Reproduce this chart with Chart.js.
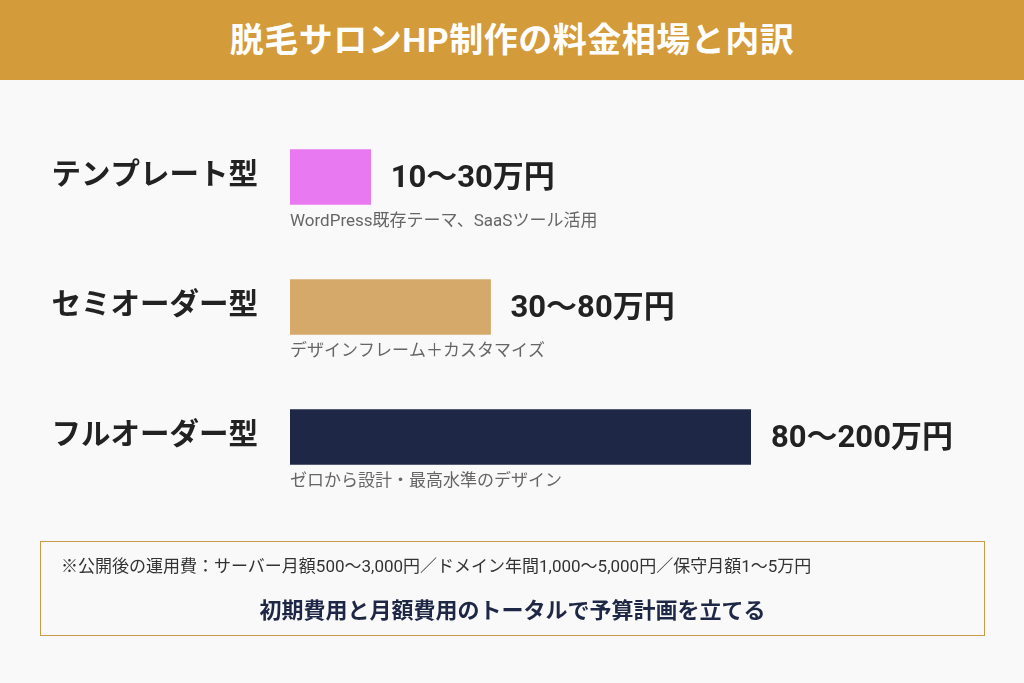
<!DOCTYPE html>
<html><head><meta charset="utf-8">
<script src="https://cdn.jsdelivr.net/npm/chart.js@4"></script>
<style>
body{margin:0;width:1024px;height:683px;background:#f9f9f9;font-family:Roboto,"Noto Sans CJK JP",sans-serif;position:relative;overflow:hidden}
#head{position:absolute;left:0;top:0;width:1024px;height:80px;background:#d49b3a;color:#fff;font-weight:bold;font-size:34px;text-align:center;line-height:80px;letter-spacing:0.5px}
#c{position:absolute;left:0;top:0}
#box{position:absolute;left:40px;top:541px;width:945px;height:95px;border:1.5px solid #c99a45;box-sizing:border-box}
#n1{position:absolute;left:20px;top:10px;font-size:17px;color:#333;white-space:nowrap}
#n2{position:absolute;left:0;width:100%;top:50px;text-align:center;font-size:22px;font-weight:bold;color:#1e2846}
</style></head><body>
<div id="head">脱毛サロンHP制作の料金相場と内訳</div>
<canvas id="c" width="1024" height="683"></canvas>
<div id="box"><div id="n1">※公開後の運用費：サーバー月額500〜3,000円／ドメイン年間1,000〜5,000円／保守月額1〜5万円</div>
<div id="n2">初期費用と月額費用のトータルで予算計画を立てる</div></div>
<script>
var categories = ["テンプレート型", "セミオーダー型", "フルオーダー型"];
var barValues = [35, 87, 200];
var priceLabels = ["10〜30万円", "30〜80万円", "80〜200万円"];
var notes = ["WordPress既存テーマ、SaaSツール活用", "デザインフレーム＋カスタマイズ", "ゼロから設計・最高水準のデザイン"];
var colors = ["#e879f0", "#d4a96a", "#1e2846"];

var labelPlugin = {
    id: "labels",
    afterDatasetsDraw: function(chart) {
        var ctx = chart.ctx;
        var meta = chart.getDatasetMeta(0);
        ctx.save();
        for (var i = 0; i < categories.length; i++) {
            var bar = meta.data[i];
            ctx.textBaseline = "middle";
            ctx.fillStyle = "#222";
            ctx.font = "bold 29.5px Roboto, 'Noto Sans CJK JP'";
            ctx.textAlign = "right";
            ctx.fillText(categories[i], 258, bar.y);
            ctx.textAlign = "left";
            ctx.font = "bold 31px Roboto, 'Noto Sans CJK JP'";
            ctx.fillText(priceLabels[i], bar.x + 20, bar.y + 2);
            ctx.font = "17px Roboto, 'Noto Sans CJK JP'";
            ctx.fillStyle = "#666";
            ctx.fillText(notes[i], bar.base, bar.y + 45);
        }
        ctx.restore();
    }
};

new Chart(document.getElementById("c"), {
    type: "bar",
    data: {
        labels: categories,
        datasets: [{ data: barValues, backgroundColor: colors, barThickness: 55 }]
    },
    options: {
        indexAxis: "y",
        responsive: false,
        animation: false,
        layout: { padding: { left: 290, right: 273, top: 112, bottom: 181 } },
        plugins: { legend: { display: false }, tooltip: { enabled: false } },
        scales: {
            x: { display: false, min: 0, max: 200 },
            y: { display: false }
        }
    },
    plugins: [labelPlugin]
});
</script>
</body></html>
